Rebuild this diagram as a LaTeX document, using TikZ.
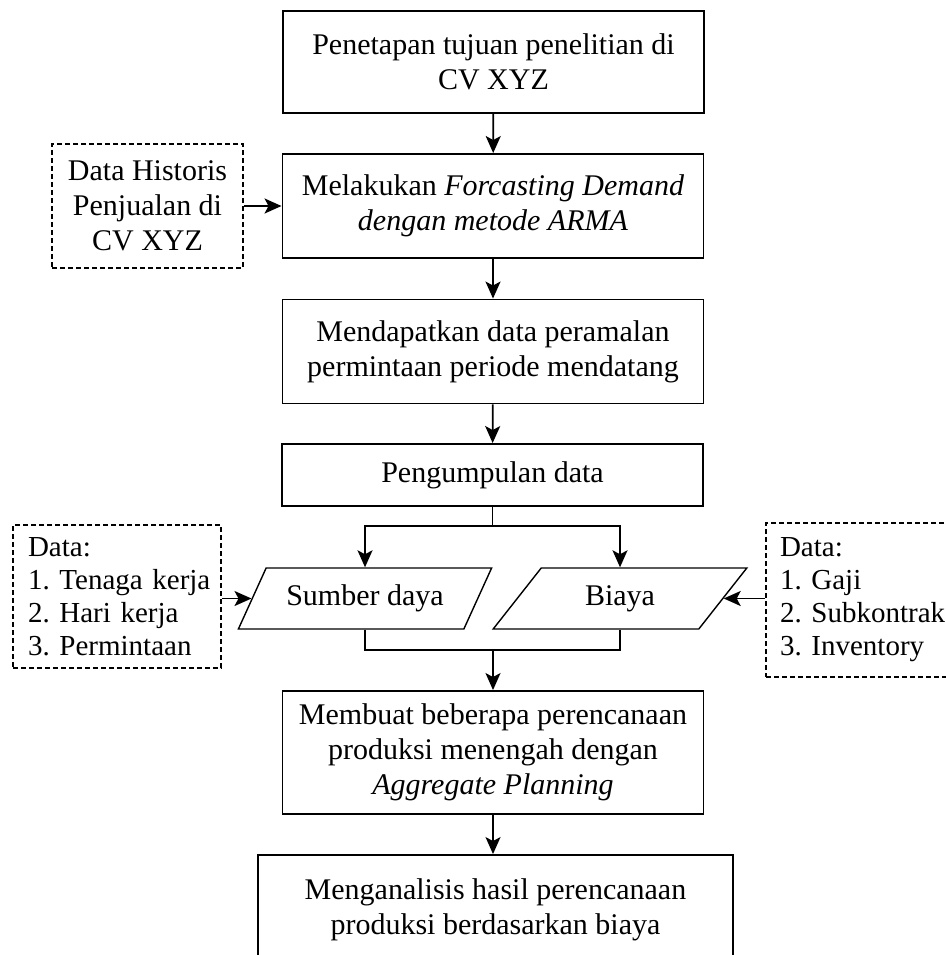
\documentclass[tikz,border=0pt]{standalone}
\usepackage{fontspec}
\setmainfont{Liberation Serif}
\frenchspacing
\usetikzlibrary{shapes.geometric,arrows.meta}
\begin{document}
\begin{tikzpicture}[x=1pt,y=-1pt]
        \tikzstyle{process}=[rectangle,draw=black,line width=1.9pt,align=center,minimum width=421pt,inner sep=0pt,font=\fontsize{30}{35}\selectfont]
        \tikzstyle{datanote}=[rectangle,draw=black,line width=1.8pt,dash pattern=on 5pt off 3pt,inner sep=0pt,font=\fontsize{29}{33}\selectfont]
        \tikzstyle{io}=[trapezium,trapezium left angle=51,trapezium right angle=129,trapezium stretches=true,draw=black,line width=1.4pt,minimum width=254pt,minimum height=61pt,inner sep=0pt,font=\fontsize{30}{35}\selectfont]
        \tikzstyle{edge}=[draw,line width=1.8pt,-{Stealth[length=17pt,width=15pt,inset=4pt]}]
        \tikzstyle{line}=[draw,line width=1.8pt]
        \useasboundingbox (0,0) rectangle (945,955);
        \begin{scope}
           \node [process,minimum height=102pt] (tujuan) at (493.5,62) {Penetapan tujuan penelitian di\\CV XYZ};
           \node [process,minimum height=104pt] (forecast) at (493,206) {Melakukan \textit{Forcasting Demand}\\\textit{dengan metode ARMA}};
           \node [datanote,minimum width=191pt,minimum height=124pt,align=center,font=\fontsize{30}{35}\selectfont] (historis) at (147.5,206) {Data Historis\\Penjualan di\\CV XYZ};
           \node [process,minimum height=104pt] (ramal) at (493,351.5) {Mendapatkan data peramalan\\permintaan periode mendatang};
           \node [process,minimum height=62pt] (kumpul) at (492.5,475) {Pengumpulan data};
           \node [io] (sumber) at (365,598.5) {Sumber daya};
           \node [io] (biaya) at (620,598.5) {Biaya};
           \node [datanote,text width=178pt,inner xsep=15pt,minimum height=143pt,align=left] (datasdm) at (117,596.5) {Data:\\1.~Tenaga~kerja\\2.~Hari~kerja\\3.~Permintaan};
           \node [datanote,text width=172pt,inner xsep=14pt,minimum height=154pt,align=left] (databiaya) at (866,600) {Data:\\1.~Gaji\\2.~Subkontrak\\3.~Inventory};
           \node [process,minimum height=123pt] (rencana) at (493,752.5) {Membuat beberapa perencanaan\\produksi menengah dengan\\\textit{Aggregate Planning}};
           \node [process,minimum width=475pt,minimum height=110pt] (analisis) at (495.5,910) {Menganalisis hasil perencanaan\\produksi berdasarkan biaya};
           \coordinate (split) at (492.5,526);
           \coordinate (merge) at (493,650);
           \path[edge] (tujuan) edge (forecast);
           \path[edge] (historis) edge (forecast);
           \path[edge] (forecast) edge (ramal);
           \path[edge] (ramal) edge (kumpul);
           \path[line] (kumpul.south) -- (split);
           \path[edge] (split) -| (sumber.north);
           \path[edge] (split) -| (biaya.north);
           \path[edge] (datasdm.east |- sumber.west) -- (sumber.west);
           \path[edge] (databiaya.west |- biaya.east) -- (biaya.east);
           \path[line] (sumber.south) |- (merge) -| (biaya.south);
           \path[edge] (merge) -- (rencana.north);
           \path[edge] (rencana.south) -- (rencana.south |- analisis.north);
        \end{scope}
\end{tikzpicture}
\end{document}
